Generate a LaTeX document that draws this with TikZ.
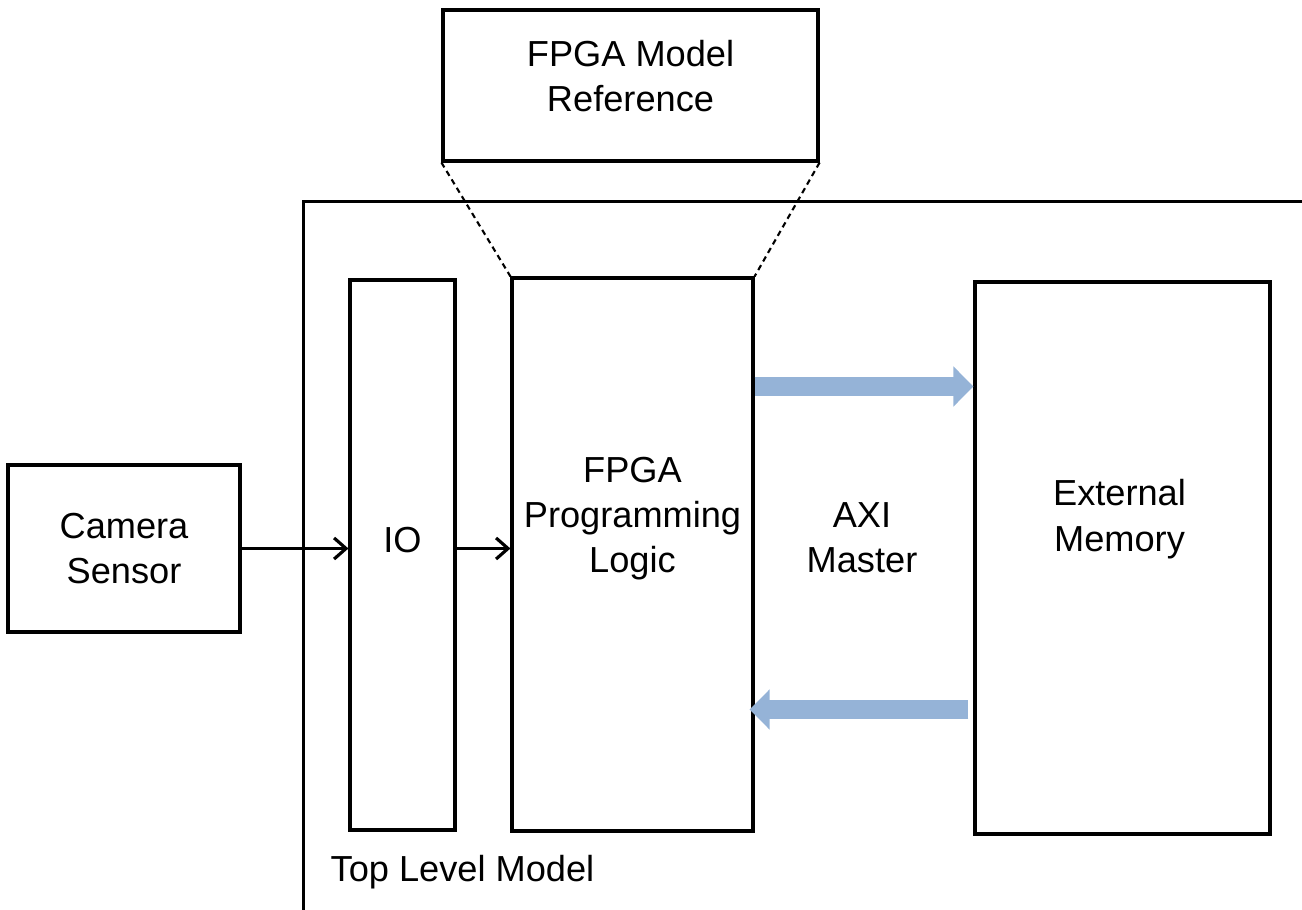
\documentclass[tikz,border=0pt]{standalone}
\usepackage{fontspec}
\setmainfont{Liberation Sans}
\usetikzlibrary{arrows.meta,positioning}

\begin{document}
\begin{tikzpicture}[
    font=\fontsize{10.3}{12.9}\selectfont,
    >={Straight Barb[length=3.4pt, width=6pt]},
    block/.style={draw=black, line width=0.9pt, rectangle, inner sep=0pt},
    txt/.style={align=center, inner sep=0pt},
    wire/.style={line width=0.9pt, ->},
    zoomline/.style={line width=0.6pt, dash pattern=on 1.6pt off 1.2pt},
    busarrow/.style={draw=axiblue, line width=0.19cm, -{Triangle[length=0.2cm, width=0.39cm]}}
]
\definecolor{axiblue}{RGB}{149,179,215}
\useasboundingbox (0,0) rectangle (13.02,9.09);

% outer model
\node[block, minimum width=10.6cm, minimum height=7.2cm, anchor=north west] (toplvl) at (3.02,7.09) {};
\node[txt, anchor=west] (toplbl) at (3.30,0.37) {Top Level Model};

% blocks
\node[block, minimum width=3.75cm, minimum height=1.51cm] (ref) at (6.305,8.235) {};
\node[txt] (reftxt) at ([yshift=0.095cm]ref.center) {FPGA Model\\Reference};
\node[block, minimum width=2.32cm, minimum height=1.67cm] (cam) at (1.24,3.605) {};
\node[txt] (camtxt) at (cam.center) {Camera\\Sensor};
\node[block, minimum width=1.05cm, minimum height=5.50cm] (io) at (4.025,3.54) {};
\node[txt] (iotxt) at ([yshift=0.15cm]io.center) {IO};
\node[block, minimum width=2.41cm, minimum height=5.53cm] (fpga) at (6.325,3.545) {};
\node[txt] (fpgatxt) at ([yshift=0.36cm]fpga.center) {FPGA\\Programming\\Logic};
\node[block, minimum width=2.95cm, minimum height=5.52cm] (mem) at (11.225,3.51) {};
\node[txt] (memtxt) at ([yshift=0.39cm, xshift=-0.03cm]mem.center) {External\\Memory};
\node[txt] (axi) at (8.62,3.71) {AXI\\Master};

% connections
\coordinate (wr) at (0,5.225);
\coordinate (rd) at (0,1.995);
\draw[zoomline] (ref.south west) -- (fpga.north west);
\draw[zoomline] (ref.south east) -- (fpga.north east);
\draw[wire] (cam.east) -- (cam.east -| io.west);
\draw[wire] (io.east |- cam.east) -- (fpga.west |- cam.east);
\draw[busarrow] (fpga.east |- wr) -- (mem.west |- wr);
\draw[busarrow] ([xshift=-0.05cm]mem.west |- rd) -- ([xshift=-0.05cm]fpga.east |- rd);

\end{tikzpicture}
\end{document}
